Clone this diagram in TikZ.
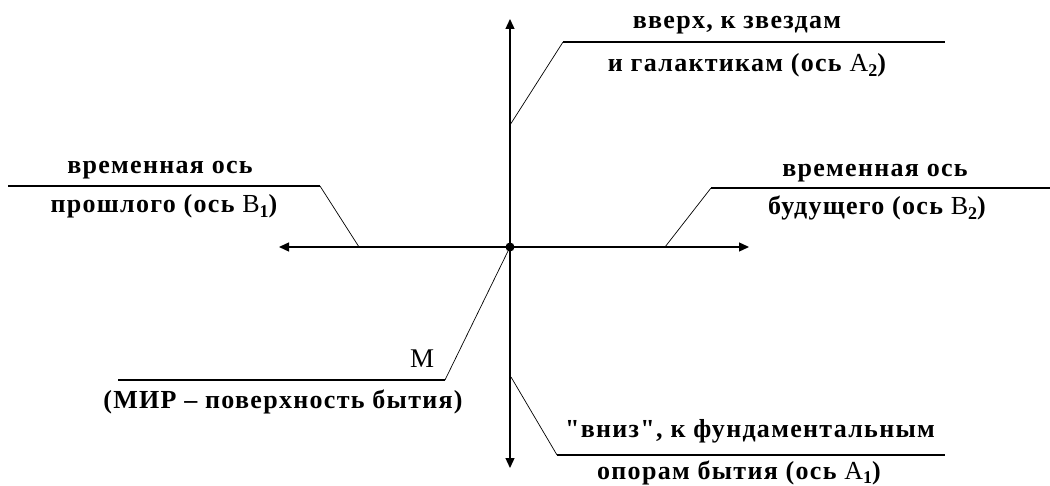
\documentclass[tikz,border=0pt]{standalone}
\usepackage{fontspec}
\setmainfont{Liberation Serif}[Ligatures=TeXOff]
\usetikzlibrary{arrows.meta}
\newcommand{\Sub}[2]{{\mdseries #1}\raisebox{-0.4ex}{\fontsize{18}{18}\selectfont\bfseries #2}}
\tikzset{
  lbl/.style={font=\fontsize{26}{26}\selectfont\bfseries\addfontfeature{LetterSpace=5}, inner sep=0pt, anchor=base},
  axisline/.style={line width=1.3pt, -{Triangle[length=10pt,width=9pt]}},
  leader/.style={line width=0.7pt},
  shelf/.style={line width=1.2pt}
}
\begin{document}
\begin{tikzpicture}[x=1pt,y=-1pt]
\useasboundingbox (0,0) rectangle (1050,486);
% centre
\coordinate (O) at (510,247);
\coordinate (topend) at (510,19);
\coordinate (botend) at (510,468);
\coordinate (leftend) at (279,247);
\coordinate (rightend) at (749,247);
\draw[axisline] (O) -- (topend);
\draw[axisline] (O) -- (botend);
\draw[axisline] (O) -- (leftend);
\draw[axisline] (O) -- (rightend);
\fill (O) circle (4.5pt);
% top leader
\coordinate (t0) at (510,125);
\coordinate (t1) at (563,42);
\coordinate (t2) at (945,42);
\draw[leader] (t0) -- (t1);
\draw[shelf] (t1) -- (t2);
\node[lbl] (top1) at (737,29) {вверх, к звездам};
\node[lbl] (top2) at (747,72) {и галактикам (ось \Sub{A}{2})};
% left leader
\coordinate (l0) at (359,247);
\coordinate (l1) at (320,186);
\coordinate (l2) at (8,186);
\draw[leader] (l0) -- (l1);
\draw[shelf] (l1) -- (l2);
\node[lbl] (left1) at (160,174) {временная ось};
\node[lbl] (left2) at (164,213) {прошлого (ось \Sub{B}{1})};
% right leader
\coordinate (r0) at (665,247);
\coordinate (r1) at (711,188);
\coordinate (r2) at (1050,188);
\draw[leader] (r0) -- (r1);
\draw[shelf] (r1) -- (r2);
\node[lbl] (right1) at (875,177) {временная ось};
\node[lbl] (right2) at (877,215) {будущего (ось \Sub{B}{2})};
% M leader
\coordinate (m1) at (445,380);
\coordinate (m2) at (118,380);
\draw[leader] (O) -- (m1);
\draw[shelf] (m1) -- (m2);
\node[lbl, font=\fontsize{27}{27}\selectfont] (mlab) at (422,368) {M};
\node[lbl] (mdesc) at (283,408) {(МИР – поверхность бытия)};
% bottom leader
\coordinate (b0) at (511,377);
\coordinate (b1) at (557,455);
\coordinate (b2) at (945,455);
\draw[leader] (b0) -- (b1);
\draw[shelf] (b1) -- (b2);
\node[lbl] (bot1) at (750,437) {"вниз", к фундаментальным};
\node[lbl] (bot2) at (739,479) {опорам бытия (ось \Sub{A}{1})};
\end{tikzpicture}
\end{document}
